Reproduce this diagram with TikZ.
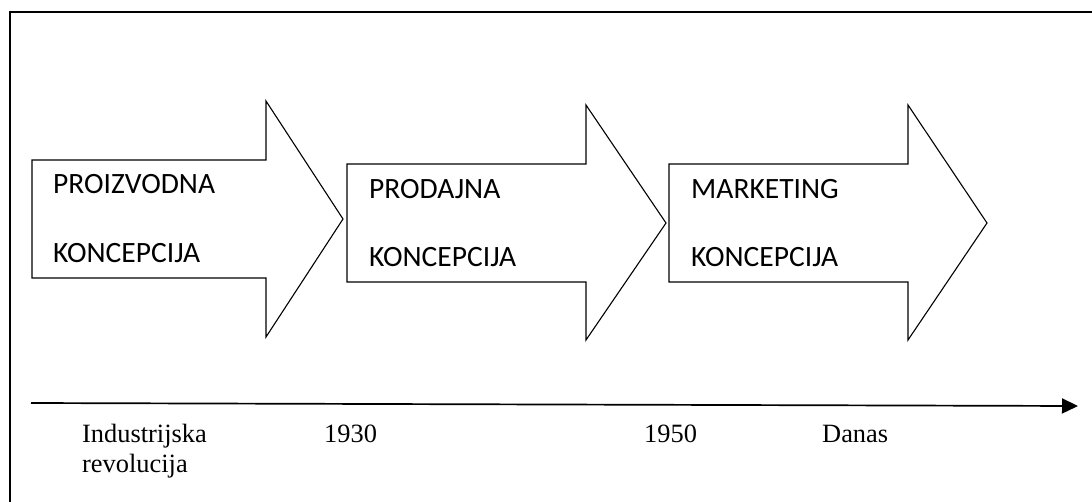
\documentclass[tikz,border=0pt]{standalone}
\usepackage{fontspec}
\setmainfont{Liberation Serif}
\newfontfamily\carlito{Carlito}
\usetikzlibrary{positioning}
\usetikzlibrary{calc,arrows.meta}

\tikzset{
  strelica/.style={draw,line width=1.1pt,line join=miter},
  natpis/.style={anchor=base west,inner sep=0pt,font=\carlito\fontsize{29.5}{32}\selectfont},
  godina/.style={anchor=base west,inner sep=0pt,font=\fontsize{26.4}{30}\selectfont},
}

\begin{document}
\begin{tikzpicture}[x=1pt,y=-1pt]
\useasboundingbox (0,0) rectangle (1092,501);
\draw [line width=1.6pt] (10,12) rectangle (1110,520);

% tri strelice
\draw [strelica] (32,160) -- (266,160) -- (266,101) -- (343,219) -- (266,337) -- (266,278) -- (32,278) -- cycle;
\draw [strelica] (347,164) -- (586,164) -- (586,105) -- (666,223) -- (586,340) -- (586,282) -- (347,282) -- cycle;
\draw [strelica] (669,164) -- (908,164) -- (908,105) -- (987,223) -- (908,340) -- (908,282) -- (669,282) -- cycle;

\path
(53,193) node [natpis](p1) {PROIZVODNA}
(53,262) node [natpis](k1) {KONCEPCIJA}
(369,198) node [natpis](p2) {PRODAJNA}
(369,266) node [natpis](k2) {KONCEPCIJA}
(691,198) node [natpis](p3) {MARKETING}
(691,266) node [natpis](k3) {KONCEPCIJA};

% vremenska os
\coordinate (t0) at (31,403);
\coordinate (t1) at (1078,406);
\draw [line width=1.7pt,-{Triangle[length=16pt,width=15pt]}] (t0) -- (t1);

\path
(82,442) node [godina](ind) {Industrijska}
(82,472) node [godina](rev) {revolucija}
(324,442) node [godina](g1) {1930}
(644,442) node [godina](g2) {1950}
(822,442) node [godina](dan) {Danas};

\end{tikzpicture}
\end{document}
